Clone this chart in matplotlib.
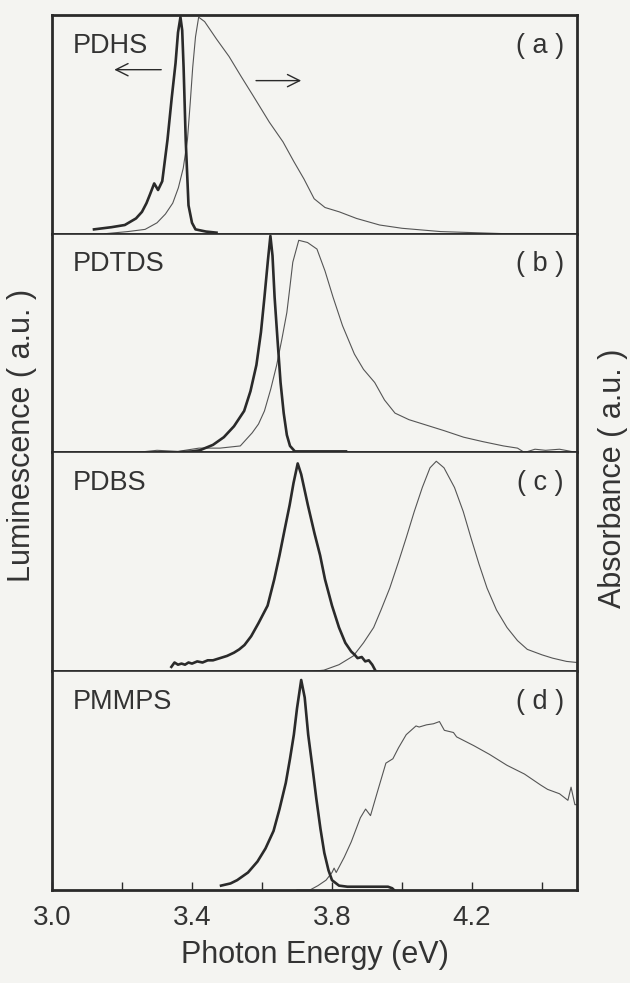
import matplotlib.pyplot as plt
from matplotlib.ticker import FixedLocator

plt.rcParams['font.family'] = ['Liberation Sans', 'DejaVu Sans']

# values (energy in eV, intensity normalised 0..1)
names = ['PDHS', 'PDTDS', 'PDBS', 'PMMPS']
tags = ['( a )', '( b )', '( c )', '( d )']

a_lum_x = [3.12, 3.17, 3.208, 3.24, 3.257, 3.27, 3.28, 3.292, 3.303, 3.315, 3.33, 3.342,
           3.353, 3.36, 3.367, 3.372, 3.376, 3.382, 3.39, 3.40, 3.41, 3.44, 3.47]
a_lum_y = [0.02, 0.03, 0.04, 0.07, 0.10, 0.14, 0.18, 0.23, 0.20, 0.24, 0.43, 0.62,
           0.78, 0.92, 0.99, 0.93, 0.76, 0.43, 0.13, 0.05, 0.02, 0.01, 0.005]
a_abs_x = [3.15, 3.217, 3.266, 3.30, 3.324, 3.345, 3.361, 3.375, 3.387, 3.395, 3.402,
           3.41, 3.419, 3.436, 3.47, 3.506, 3.54, 3.575, 3.621, 3.66, 3.691, 3.72,
           3.749, 3.78, 3.821, 3.87, 3.936, 4.0, 4.11, 4.3, 4.5]
a_abs_y = [0.0, 0.01, 0.02, 0.05, 0.09, 0.14, 0.21, 0.30, 0.43, 0.60, 0.76, 0.90,
           0.99, 0.97, 0.89, 0.81, 0.72, 0.63, 0.51, 0.42, 0.33, 0.25, 0.16, 0.12,
           0.10, 0.07, 0.04, 0.025, 0.01, 0.0, 0.0]

b_lum_x = [3.30, 3.353, 3.40, 3.422, 3.46, 3.491, 3.52, 3.549, 3.567, 3.584, 3.597,
           3.607, 3.617, 3.624, 3.630, 3.636, 3.645, 3.653, 3.662, 3.671, 3.68,
           3.694, 3.75, 3.84]
b_lum_y = [0.0, 0.0, 0.005, 0.01, 0.035, 0.07, 0.12, 0.19, 0.28, 0.40, 0.55, 0.71,
           0.88, 0.99, 0.90, 0.71, 0.50, 0.32, 0.18, 0.08, 0.03, 0.005, 0.005, 0.005]
b_abs_x = [3.24, 3.30, 3.36, 3.42, 3.48, 3.538, 3.572, 3.59, 3.607, 3.625, 3.642,
           3.657, 3.671, 3.68, 3.688, 3.705, 3.73, 3.757, 3.78, 3.803, 3.83, 3.864,
           3.89, 3.922, 3.95, 3.98, 4.02, 4.06, 4.12, 4.176, 4.23, 4.29, 4.33, 4.35,
           4.38, 4.41, 4.45, 4.50]
b_abs_y = [0.0, 0.01, 0.005, 0.02, 0.02, 0.03, 0.09, 0.13, 0.19, 0.29, 0.40, 0.52,
           0.64, 0.76, 0.87, 0.97, 0.96, 0.93, 0.83, 0.71, 0.58, 0.45, 0.38, 0.32,
           0.24, 0.18, 0.15, 0.13, 0.10, 0.07, 0.05, 0.03, 0.02, 0.0, 0.015, 0.01,
           0.015, 0.0]

c_lum_x = [3.341, 3.35, 3.36, 3.37, 3.38, 3.39, 3.40, 3.415, 3.43, 3.445, 3.46, 3.48,
           3.50, 3.52, 3.535, 3.55, 3.569, 3.59, 3.616, 3.635, 3.650, 3.665, 3.679,
           3.69, 3.702, 3.712, 3.731, 3.75, 3.766, 3.78, 3.80, 3.82, 3.838, 3.855,
           3.865, 3.873, 3.885, 3.895, 3.905, 3.915, 3.925]
c_lum_y = [0.02, 0.04, 0.03, 0.035, 0.03, 0.04, 0.035, 0.045, 0.04, 0.05, 0.05, 0.06,
           0.07, 0.085, 0.10, 0.12, 0.16, 0.22, 0.30, 0.42, 0.53, 0.65, 0.76, 0.86,
           0.95, 0.90, 0.76, 0.63, 0.53, 0.42, 0.30, 0.20, 0.13, 0.09, 0.075, 0.06,
           0.065, 0.045, 0.05, 0.03, 0.0]
c_abs_x = [3.746, 3.777, 3.82, 3.861, 3.89, 3.919, 3.94, 3.965, 3.99, 4.012, 4.035,
           4.058, 4.08, 4.098, 4.12, 4.15, 4.175, 4.197, 4.22, 4.243, 4.27, 4.30,
           4.33, 4.358, 4.40, 4.43, 4.47, 4.50]
c_abs_y = [0.0, 0.005, 0.03, 0.07, 0.13, 0.20, 0.28, 0.38, 0.50, 0.61, 0.73, 0.84,
           0.93, 0.96, 0.93, 0.84, 0.73, 0.61, 0.49, 0.38, 0.28, 0.20, 0.14, 0.10,
           0.075, 0.06, 0.045, 0.04]

d_lum_x = [3.483, 3.51, 3.529, 3.56, 3.587, 3.61, 3.633, 3.65, 3.668, 3.68, 3.691,
           3.70, 3.712, 3.722, 3.732, 3.745, 3.755, 3.767, 3.778, 3.79, 3.80, 3.82,
           3.844, 3.90, 3.96, 3.972, 3.977]
d_lum_y = [0.02, 0.03, 0.045, 0.08, 0.13, 0.19, 0.27, 0.37, 0.49, 0.60, 0.71, 0.83,
           0.96, 0.88, 0.71, 0.55, 0.42, 0.28, 0.17, 0.09, 0.045, 0.02, 0.015,
           0.015, 0.015, 0.008, 0.0]
d_abs_x = [3.70, 3.737, 3.76, 3.783, 3.80, 3.806, 3.812, 3.835, 3.855, 3.881, 3.896,
           3.910, 3.93, 3.954, 3.974, 3.99, 4.012, 4.040, 4.049, 4.07, 4.09, 4.107,
           4.121, 4.147, 4.156, 4.205, 4.25, 4.30, 4.35, 4.396, 4.416, 4.45, 4.474,
           4.483, 4.494, 4.50]
d_abs_y = [0.0, 0.0, 0.02, 0.045, 0.08, 0.10, 0.08, 0.15, 0.22, 0.33, 0.37, 0.34,
           0.45, 0.58, 0.60, 0.65, 0.71, 0.75, 0.745, 0.755, 0.76, 0.77, 0.73, 0.72,
           0.70, 0.66, 0.62, 0.57, 0.53, 0.48, 0.46, 0.44, 0.41, 0.47, 0.39, 0.39]

lum = [(a_lum_x, a_lum_y), (b_lum_x, b_lum_y), (c_lum_x, c_lum_y), (d_lum_x, d_lum_y)]
absb = [(a_abs_x, a_abs_y), (b_abs_x, b_abs_y), (c_abs_x, c_abs_y), (d_abs_x, d_abs_y)]

ink = '#2a2a2a'
paper = '#f4f4f1'
txt = '#333333'

fig, axes = plt.subplots(4, 1, figsize=(6.3, 9.83), dpi=100, sharex=True)
fig.patch.set_facecolor(paper)
fig.subplots_adjust(left=52 / 630, right=577 / 630, top=1 - 15 / 983,
                    bottom=1 - 890 / 983, hspace=0)

for i, ax in enumerate(axes):
    ax.set_facecolor(paper)
    ax.plot(*absb[i], color='#555555', lw=0.8)
    ax.plot(*lum[i], color=ink, lw=1.9)
    ax.set_xlim(3.0, 4.5)
    ax.set_ylim(0, 1.0)
    ax.set_yticks([])
    for side in ['left', 'right']:
        ax.spines[side].set_linewidth(2.0)
        ax.spines[side].set_color(ink)
    ax.spines['top'].set_linewidth(2.0 if i == 0 else 1.2)
    ax.spines['bottom'].set_linewidth(2.0 if i == 3 else 1.2)
    ax.spines['top'].set_color(ink)
    ax.spines['bottom'].set_color(ink)
    ax.text(0.04, 0.86, names[i], transform=ax.transAxes, fontsize=19.5,
            color=txt, va='center', ha='left')
    ax.text(0.975, 0.86, tags[i], transform=ax.transAxes, fontsize=19.5,
            color=txt, va='center', ha='right')
    if i < 3:
        ax.tick_params(axis='x', bottom=False, labelbottom=False)

# arrows in panel (a) pointing to the relevant axis
axes[0].annotate('', xy=(3.17, 0.75), xytext=(3.32, 0.75),
                 arrowprops=dict(arrowstyle='->', color=ink, lw=1.0,
                                 mutation_scale=22))
axes[0].annotate('', xy=(3.72, 0.70), xytext=(3.575, 0.70),
                 arrowprops=dict(arrowstyle='->', color=ink, lw=1.0,
                                 mutation_scale=22))

bx = axes[3]
bx.xaxis.set_major_locator(FixedLocator([3.0, 3.4, 3.8, 4.2]))
bx.xaxis.set_minor_locator(FixedLocator([3.2, 3.6, 4.0, 4.4]))
bx.tick_params(axis='x', which='both', direction='in', length=6, width=1.0,
               colors=ink, labelsize=20, pad=11, labelcolor=txt)
bx.set_xticklabels(['3.0', '3.4', '3.8', '4.2'])
bx.set_xlabel('Photon Energy (eV)', fontsize=22, color=txt, labelpad=6)

fig.text(22 / 630, 1 - 435 / 983, 'Luminescence ( a.u. )', rotation=90,
         fontsize=22, color=txt, ha='center', va='center')
fig.text(613 / 630, 1 - 478 / 983, 'Absorbance ( a.u. )', rotation=90,
         fontsize=22, color=txt, ha='center', va='center')

fig.savefig('out.png', dpi=100, facecolor=paper)
